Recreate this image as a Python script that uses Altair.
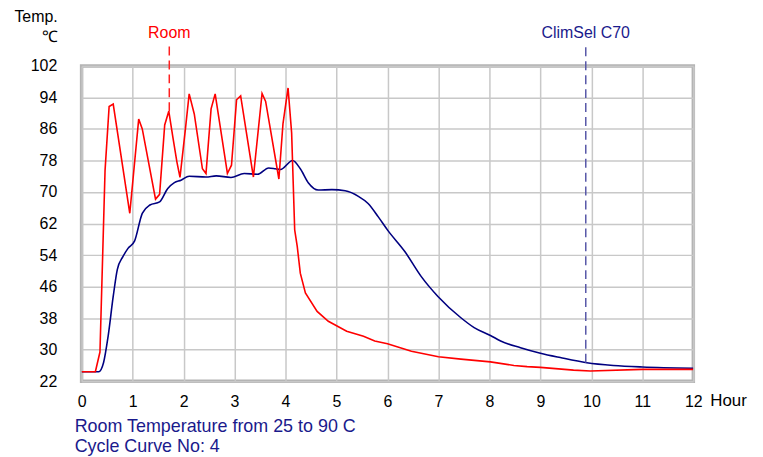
import altair as alt
import pandas as pd

# ---- data ----
red_hours = [0, 0.27, 0.36, 0.46, 0.54, 0.62, 0.945, 1.12, 1.19, 1.45, 1.53,
             1.63, 1.71, 1.79, 1.87, 1.93, 2.04, 2.11, 2.21, 2.37, 2.44,
             2.54, 2.62, 2.86, 2.94, 3.04, 3.12, 3.37, 3.54, 3.61, 3.87,
             3.95, 4.05, 4.12, 4.18, 4.23, 4.29, 4.39, 4.62, 4.84, 5.2,
             5.53, 5.75, 6.0, 6.47, 7.0, 7.44, 8.02, 8.48, 8.74, 9.0,
             9.65, 9.98, 11.0, 12.0]
red_temp = [24.4, 24.4, 29.4, 75.5, 91.7, 92.3, 64.6, 88.5, 86.0, 68.2, 69.4,
            87.0, 90.5, 83.9, 77.6, 73.7, 86.4, 94.9, 89.8, 75.9, 74.7,
            91.1, 94.9, 74.7, 76.8, 93.4, 94.4, 73.8, 95.0, 93.0, 73.3,
            87.3, 96.4, 85.0, 60.4, 56.2, 49.4, 44.4, 39.7, 37.2, 34.7,
            33.4, 32.2, 31.5, 29.6, 28.2, 27.6, 26.9, 26.0, 25.7, 25.5,
            24.8, 24.6, 25.0, 25.0]

blue_hours = [0, 0.335, 0.43, 0.52, 0.62, 0.70, 0.81, 0.91, 1.04, 1.19,
              1.34, 1.53, 1.69, 1.82, 1.95, 2.11, 2.44, 2.64, 2.93, 3.19,
              3.45, 3.67, 3.80, 3.90, 4.14, 4.29, 4.45, 4.64, 4.91, 5.17,
              5.43, 5.62, 5.82, 6.01, 6.34, 6.66, 6.99, 7.44, 7.70, 8.02,
              8.22, 8.61, 9.0, 9.39, 9.91, 10.43, 11.0, 12.0]
blue_temp = [24.4, 24.4, 26.7, 33.4, 43.5, 50.3, 53.6, 55.7, 57.6, 64.6,
             66.7, 67.5, 70.9, 72.4, 73.0, 74.0, 73.8, 74.1, 73.7, 74.7,
             74.5, 76.1, 75.9, 75.7, 78.0, 75.9, 72.3, 70.5, 70.6, 70.3,
             68.9, 67.1, 63.7, 60.2, 54.9, 48.6, 43.5, 38.1, 35.6, 33.6,
             32.2, 30.5, 29.1, 28.0, 26.7, 26.0, 25.6, 25.3]

marker_names = ["Room", "ClimSel C70"]
marker_hours = [1.72, 9.89]
marker_temps = [90.5, 26.7]
marker_colors = ["#ff2020", "#5858a8"]
label_colors = ["#ff0000", "#1a1a8c"]

x_ticks = list(range(0, 13))
y_ticks = [22, 30, 38, 46, 54, 62, 70, 78, 86, 94, 102]

y_title_lines = ["Temp.", "\u2103"]
x_title = "Hour"
footer_lines = ["Room Temperature from 25 to 90 C", "Cycle Curve No: 4"]

FONT = "Liberation Sans"
W, H = 615, 317

red_df = pd.DataFrame({"h": red_hours, "t": red_temp})
blue_df = pd.DataFrame({"h": blue_hours, "t": blue_temp})
mark_df = pd.DataFrame({"name": marker_names, "h": marker_hours, "t": marker_temps,
                        "rc": marker_colors, "lc": label_colors})

xs = alt.Scale(domain=[0, 12], nice=False)
ys = alt.Scale(domain=[22, 102], nice=False)

xax = alt.Axis(values=x_ticks, title=None, domain=False, ticks=False, tickSize=0,
               labelFontSize=16, labelFont=FONT, labelColor="#000000",
               labelPadding=12, grid=True, gridColor="#c8c8c8", gridWidth=1.5,
               labelFlush=False, labelOverlap=False)
yax = alt.Axis(values=y_ticks, title=None, domain=False, ticks=False, tickSize=0,
               labelFontSize=16, labelFont=FONT, labelColor="#000000",
               labelPadding=25, grid=True, gridColor="#c8c8c8", gridWidth=1.5,
               labelFlush=False, labelOverlap=False)

blue_line = alt.Chart(blue_df).mark_line(color="#000080", strokeWidth=1.6,
                                         interpolate="monotone", clip=True).encode(
    x=alt.X("h:Q", scale=xs, axis=xax),
    y=alt.Y("t:Q", scale=ys, axis=yax),
)
red_line = alt.Chart(red_df).mark_line(color="#ff0000", strokeWidth=1.6, clip=True).encode(
    x=alt.X("h:Q", scale=xs, axis=xax),
    y=alt.Y("t:Q", scale=ys, axis=yax),
)

rules = alt.Chart(mark_df).mark_rule(strokeDash=[9, 5], strokeWidth=1.5).encode(
    x=alt.X("h:Q", scale=xs, axis=xax),
    y=alt.Y("t:Q", scale=ys, axis=yax),
    y2=alt.value(-20),
    color=alt.Color("rc:N", scale=None),
)
mark_labels = alt.Chart(mark_df).mark_text(fontSize=16, font=FONT, align="center",
                                           baseline="alphabetic").encode(
    x=alt.X("h:Q", scale=xs, axis=xax),
    y=alt.value(-28),
    text="name:N",
    color=alt.Color("lc:N", scale=None),
)

ytitle_df = pd.DataFrame({"txt": y_title_lines, "yy": [-44, -24]})
ytitle = alt.Chart(ytitle_df).mark_text(fontSize=16, font=FONT, align="right",
                                        baseline="alphabetic", color="#000000").encode(
    x=alt.value(-24), y=alt.Y("yy:Q", scale=None), text="txt:N")

xtitle = alt.Chart(pd.DataFrame({"txt": [x_title]})).mark_text(
    fontSize=17, font=FONT, align="left", baseline="alphabetic", color="#000000").encode(
    x=alt.value(632), y=alt.value(342), text="txt:N")

footer_df = pd.DataFrame({"txt": footer_lines, "yy": [368, 388]})
footer = alt.Chart(footer_df).mark_text(fontSize=18, font=FONT, align="left",
                                        baseline="alphabetic", color="#1a1a8c").encode(
    x=alt.value(-7), y=alt.Y("yy:Q", scale=None), text="txt:N")

chart = alt.layer(blue_line, red_line, rules, mark_labels, ytitle, xtitle, footer).properties(
    width=W, height=H,
    autosize=alt.AutoSizeParams(type="none"),
    padding={"left": 74, "top": 57, "right": 62, "bottom": 74},
    background="white",
).configure_view(stroke="#b4b4b4", strokeWidth=3.5).configure_axis(labelOverlap=False)

chart.save("out.html", embed_options={"renderer": "svg", "actions": False})
